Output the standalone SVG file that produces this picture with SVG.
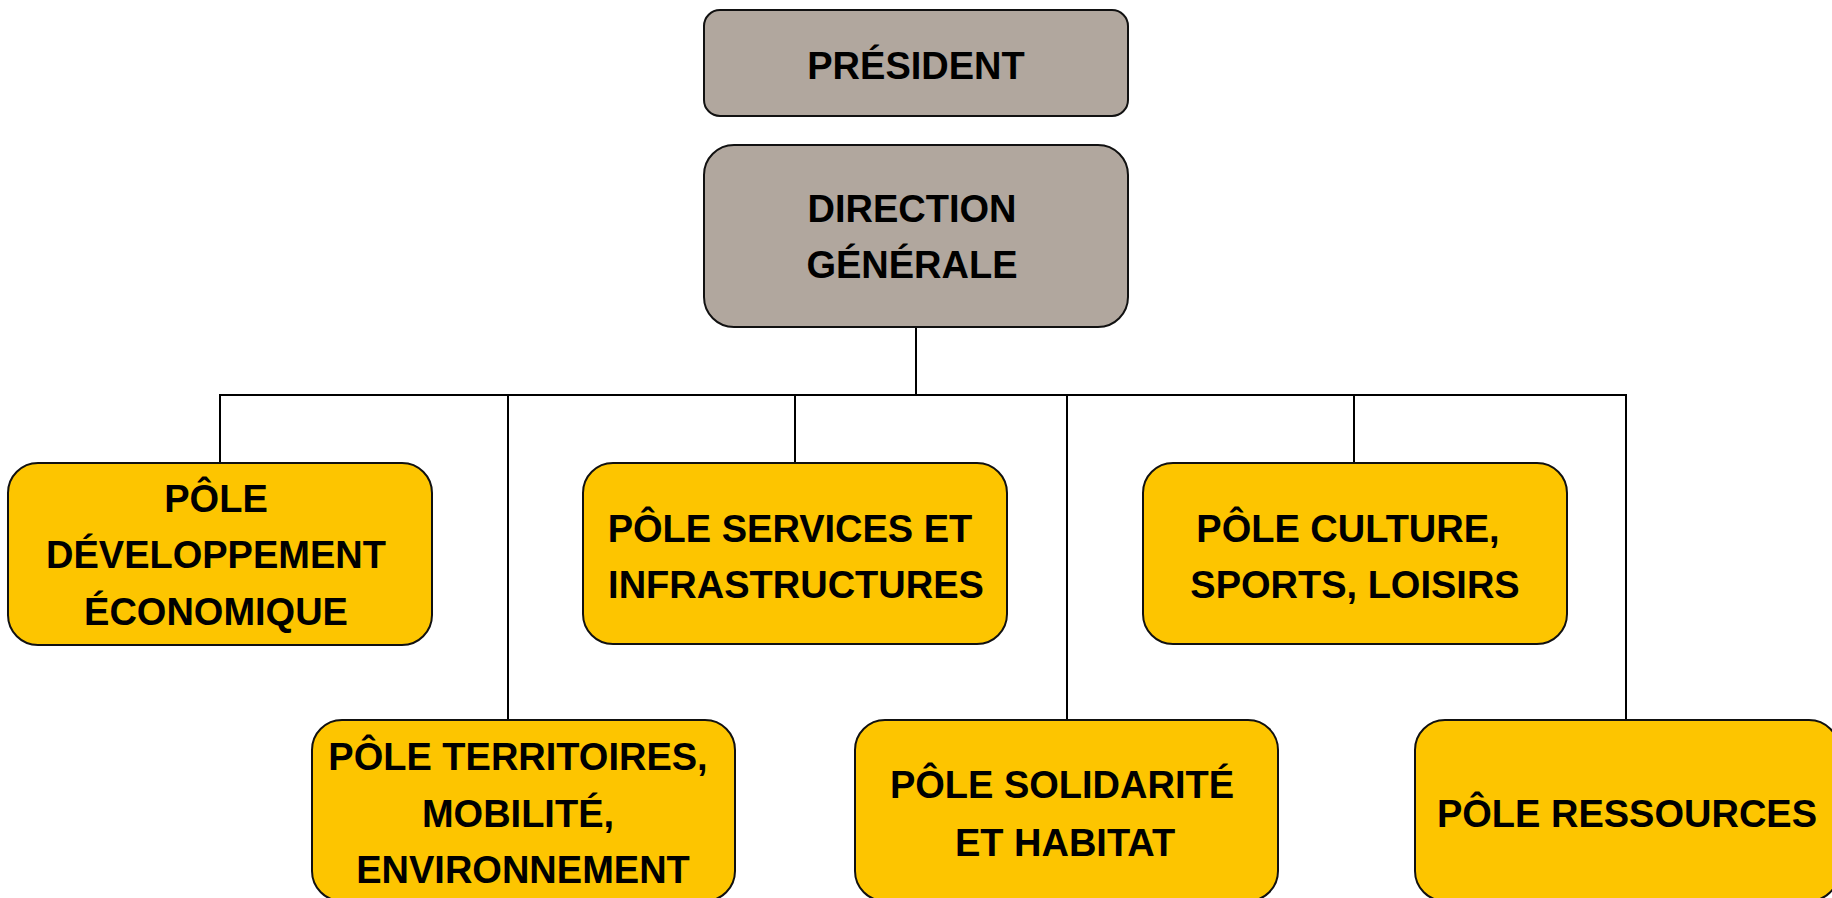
<svg xmlns="http://www.w3.org/2000/svg" width="1832" height="898" viewBox="0 0 1832 898">
<style>
.box{stroke:#111;stroke-width:2}
.gray{fill:#B1A79E}
.yel{fill:#FDC500}
.t{font-family:"Liberation Sans",Arial,sans-serif;font-weight:bold;font-size:38px;fill:#000;text-anchor:middle}
.c{stroke:#000;stroke-width:2;fill:none}
</style>
<rect width="1832" height="898" fill="#fff"/>
<g id="connectors">
<line class="c" x1="916" y1="327" x2="916" y2="395"/>
<line class="c" x1="219" y1="395" x2="1627" y2="395"/>
<line class="c" x1="220" y1="395" x2="220" y2="463"/>
<line class="c" x1="508" y1="395" x2="508" y2="720"/>
<line class="c" x1="795" y1="395" x2="795" y2="463"/>
<line class="c" x1="1067" y1="395" x2="1067" y2="720"/>
<line class="c" x1="1354" y1="395" x2="1354" y2="463"/>
<line class="c" x1="1626" y1="395" x2="1626" y2="720"/>
</g>
<g id="president">
<rect class="box gray" x="704" y="10" width="424" height="106" rx="16"/>
<text class="t" x="916" y="79">PRÉSIDENT</text>
</g>
<g id="direction-generale">
<rect class="box gray" x="704" y="145" width="424" height="182" rx="30"/>
<text class="t" x="912" y="222">DIRECTION</text>
<text class="t" x="912" y="278">GÉNÉRALE</text>
</g>
<g id="pole-developpement">
<rect class="box yel" x="8" y="463" width="424" height="182" rx="30"/>
<text class="t" x="216" y="512">PÔLE</text>
<text class="t" x="216" y="568">DÉVELOPPEMENT</text>
<text class="t" x="216" y="625">ÉCONOMIQUE</text>
</g>
<g id="pole-services">
<rect class="box yel" x="583" y="463" width="424" height="181" rx="30"/>
<text class="t" x="790" y="542">PÔLE SERVICES ET</text>
<text class="t" x="796" y="598">INFRASTRUCTURES</text>
</g>
<g id="pole-culture">
<rect class="box yel" x="1143" y="463" width="424" height="181" rx="30"/>
<text class="t" x="1348" y="542">PÔLE CULTURE,</text>
<text class="t" x="1355" y="598">SPORTS, LOISIRS</text>
</g>
<g id="pole-territoires">
<rect class="box yel" x="312" y="720" width="423" height="181" rx="30"/>
<text class="t" x="518" y="770">PÔLE TERRITOIRES,</text>
<text class="t" x="518" y="827">MOBILITÉ,</text>
<text class="t" x="523" y="883">ENVIRONNEMENT</text>
</g>
<g id="pole-solidarite">
<rect class="box yel" x="855" y="720" width="423" height="181" rx="30"/>
<text class="t" x="1062" y="798">PÔLE SOLIDARITÉ</text>
<text class="t" x="1065" y="856">ET HABITAT</text>
</g>
<g id="pole-ressources">
<rect class="box yel" x="1415" y="720" width="424" height="181" rx="30"/>
<text class="t" x="1627" y="827">PÔLE RESSOURCES</text>
</g>
</svg>
